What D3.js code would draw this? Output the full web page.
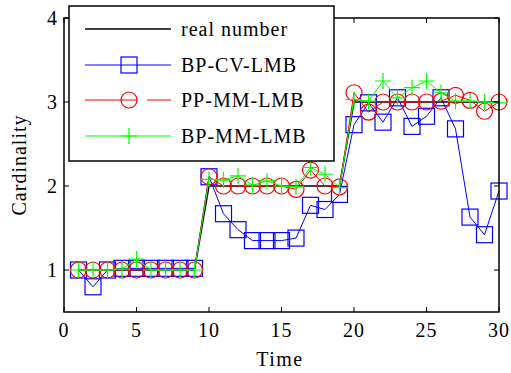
<!DOCTYPE html>
<html>
<head>
<meta charset="utf-8">
<script src="https://cdn.jsdelivr.net/npm/d3@7"></script>
<style>
  body { margin: 0; background: #fff; }
  text { font-family: "Liberation Serif", "Times New Roman", serif; fill: #000; }
</style>
</head>
<body>
<div id="chart"></div>
<script>
var timeSteps = [1, 2, 3, 4, 5, 6, 7, 8, 9, 10, 11, 12, 13, 14, 15, 16, 17, 18, 19, 20, 21, 22, 23, 24, 25, 26, 27, 28, 29, 30];
var realNumber = [1, 1, 1, 1, 1, 1, 1, 1, 1, 2, 2, 2, 2, 2, 2, 2, 2, 2, 2, 3, 3, 3, 3, 3, 3, 3, 3, 3, 3, 3];
var bpCvLmb = [1.0, 0.8, 1.0, 1.02, 1.02, 1.02, 1.02, 1.02, 1.02, 2.11, 1.67, 1.48, 1.35, 1.35, 1.35, 1.38, 1.77, 1.72, 1.9,
               2.73, 2.99, 2.76, 3.05, 2.71, 2.83, 3.05, 2.68, 1.63, 1.42, 1.94];
var ppMmLmb = [1.0, 1.0, 1.0, 1.0, 1.0, 1.0, 1.0, 1.0, 1.0, 2.11, 2.0, 2.0, 2.0, 2.0, 2.0, 1.96, 2.19, 2.0, 1.99,
               3.11, 2.88, 3.0, 3.0, 3.0, 3.0, 3.01, 3.08, 3.02, 2.89, 3.0];
var bpMmLmb = [1.0, 1.0, 1.0, 1.01, 1.13, 1.0, 1.0, 1.0, 1.0, 2.08, 2.07, 2.12, 2.01, 2.06, 2.0, 1.99, 2.22, 2.14, 1.98,
               3.03, 3.01, 3.25, 3.05, 3.17, 3.25, 3.11, 3.01, 3.01, 3.0, 2.99];
var xTicks = [0, 5, 10, 15, 20, 25, 30];
var yTicks = [1, 2, 3, 4];
var seriesNames = ["real number", "BP-CV-LMB", "PP-MM-LMB", "BP-MM-LMB"];

var W = 511, H = 373;
var box = {left: 64, right: 499, top: 18, bottom: 312};

var svg = d3.select("#chart").append("svg")
  .attr("width", W).attr("height", H);

var x = d3.scaleLinear().domain([0, 30]).range([box.left, box.right]);
var y = d3.scaleLinear().domain([0.5, 4]).range([box.bottom, box.top]);

var series = [
  {name: seriesNames[0], values: realNumber, color: "#000", marker: "none", width: 1.5},
  {name: seriesNames[1], values: bpCvLmb, color: "#0000ff", marker: "square", width: 1},
  {name: seriesNames[2], values: ppMmLmb, color: "#ff0000", marker: "circle", width: 1},
  {name: seriesNames[3], values: bpMmLmb, color: "#00ff00", marker: "plus", width: 1}
];

var drawMarker = function(g, kind, color) {
  if (kind === "square") {
    g.append("rect").attr("x", -8).attr("y", -8).attr("width", 16).attr("height", 16)
      .attr("fill", "none").attr("stroke", color).attr("stroke-width", 1.2);
  } else if (kind === "circle") {
    g.append("circle").attr("r", 8)
      .attr("fill", "none").attr("stroke", color).attr("stroke-width", 1.2);
  } else if (kind === "plus") {
    g.append("path").attr("d", "M-8,0H8M0,-8V8")
      .attr("fill", "none").attr("stroke", color).attr("stroke-width", 1.2);
  }
};

var line = d3.line()
  .x(function(d) { return x(d.t); })
  .y(function(d) { return y(d.v); });

series.forEach(function(s) {
  var pts = timeSteps.map(function(t, i) { return {t: t, v: s.values[i]}; });
  var g = svg.append("g").attr("class", "series");
  g.append("path")
    .datum(pts)
    .attr("d", line)
    .attr("fill", "none")
    .attr("stroke", s.color)
    .attr("stroke-width", s.width);
  if (s.marker !== "none") {
    g.selectAll(".mk")
      .data(pts)
      .enter().append("g")
      .attr("class", "mk")
      .attr("transform", function(d) { return "translate(" + x(d.t) + "," + y(d.v) + ")"; })
      .each(function() { drawMarker(d3.select(this), s.marker, s.color); });
  }
});

// frame with inward ticks on all sides
var frame = svg.append("g").attr("class", "frame");
frame.append("rect")
  .attr("x", box.left).attr("y", box.top)
  .attr("width", box.right - box.left).attr("height", box.bottom - box.top)
  .attr("fill", "none").attr("stroke", "#000").attr("stroke-width", 1.5);

var tk = 5;
frame.selectAll(".xt").data(xTicks).enter().append("path")
  .attr("d", function(d) { return "M" + x(d) + "," + box.bottom + "v" + (-tk) + "M" + x(d) + "," + box.top + "v" + tk; })
  .attr("stroke", "#000").attr("stroke-width", 1);
frame.selectAll(".yt").data(yTicks).enter().append("path")
  .attr("d", function(d) { return "M" + box.left + "," + y(d) + "h" + tk + "M" + box.right + "," + y(d) + "h" + (-tk); })
  .attr("stroke", "#000").attr("stroke-width", 1);

frame.selectAll(".xl").data(xTicks).enter().append("text")
  .attr("x", function(d) { return x(d); })
  .attr("y", 337)
  .attr("text-anchor", "middle")
  .attr("font-size", 20)
  .attr("letter-spacing", 1)
  .text(function(d) { return d; });

frame.selectAll(".yl").data(yTicks).enter().append("text")
  .attr("x", 57)
  .attr("y", function(d) { return y(d) + 7; })
  .attr("text-anchor", "end")
  .attr("font-size", 20)
  .text(function(d) { return d; });

svg.append("text")
  .attr("x", 280).attr("y", 366)
  .attr("text-anchor", "middle")
  .attr("font-size", 20)
  .attr("letter-spacing", 1.5)
  .text("Time");

svg.append("text")
  .attr("transform", "translate(26," + ((box.top + box.bottom) / 2) + ") rotate(-90)")
  .attr("text-anchor", "middle")
  .attr("font-size", 20)
  .attr("letter-spacing", 1)
  .text("Cardinality");

// legend
var legend = svg.append("g").attr("class", "legend");
legend.append("rect")
  .attr("x", 69).attr("y", 6).attr("width", 265).attr("height", 155)
  .attr("fill", "#fff").attr("stroke", "#000").attr("stroke-width", 1.5);

var rowY = [29, 65, 100, 136];
series.forEach(function(s, i) {
  var row = legend.append("g").attr("transform", "translate(0," + rowY[i] + ")");
  var ln = row.append("line")
    .attr("x1", 85).attr("x2", 171).attr("y1", 0).attr("y2", 0)
    .attr("stroke", s.color).attr("stroke-width", s.width);
  if (s.marker === "circle") ln.attr("stroke-dasharray", "52,10,24");
  if (s.marker !== "none") {
    drawMarker(row.append("g").attr("transform", "translate(129,0)"), s.marker, s.color);
  }
  row.append("text")
    .attr("x", 181).attr("y", 7)
    .attr("font-size", 20)
    .attr("letter-spacing", 1)
    .text(s.name);
});
</script>
</body>
</html>
